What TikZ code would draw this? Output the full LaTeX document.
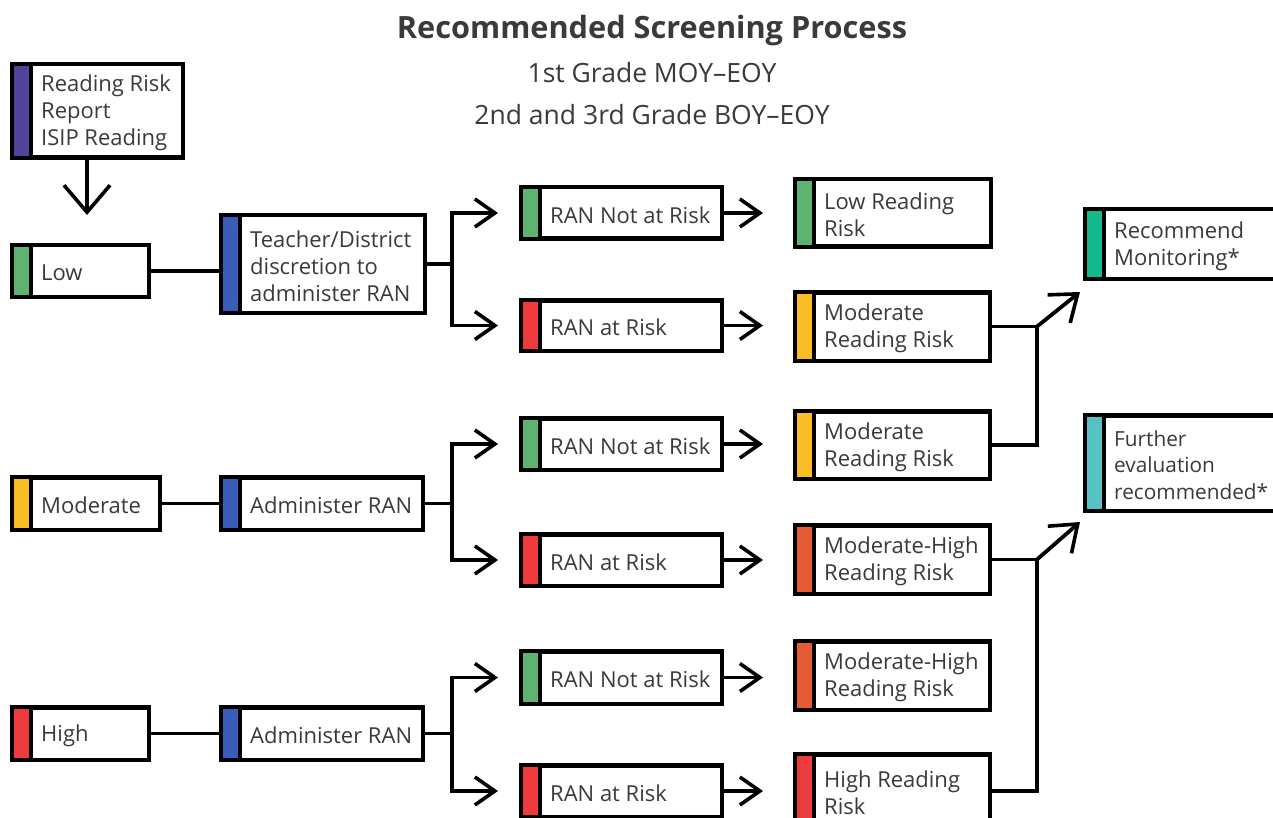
\documentclass[tikz,border=0pt]{standalone}
\usepackage{fontspec}
\setmainfont{Open Sans}
\usetikzlibrary{arrows.meta}
\definecolor{txtgray}{HTML}{3A3A3A}
\definecolor{cpurple}{HTML}{4F449A}
\definecolor{cgreen}{HTML}{5DB36F}
\definecolor{cblue}{HTML}{3B5DBA}
\definecolor{cyellow}{HTML}{FBBD26}
\definecolor{cred}{HTML}{EE3B3D}
\definecolor{corange}{HTML}{E65A34}
\definecolor{cteal}{HTML}{13B88C}
\definecolor{ccyan}{HTML}{56C2C3}
\tikzset{
  rbox/.style={draw=black, fill=white, line width=4.5pt, inner sep=0pt, rectangle},
  txt/.style={anchor=west, align=left, inner sep=0pt, text=txtgray, font=\fontsize{22}{27}\selectfont},
  conn/.style={line width=3.8pt, line join=miter},
  arr/.style={conn, -{Straight Barb[length=20pt,width=28pt,line width=3.6pt]}},
  bigarr/.style={conn, -{Straight Barb[length=27pt,width=46pt,line width=3.6pt]}},
  diagarr/.style={conn, -{Straight Barb[length=24pt,width=36pt,line width=3.6pt]}},
}
\newcommand\rbox[8][]{%
  \node[rbox, minimum width={#5-#3-4.5}, minimum height={#6-#4-4.5}, anchor=north west] (#2) at (#3,#4) {};
  \fill[#7] ([xshift=4.4,yshift=-4.4]#2.north west) rectangle ([xshift=19,yshift=4.4]#2.south west);
  \draw[line width=4pt] ([xshift=21]#2.north west) -- ([xshift=21]#2.south west);
  \node[txt,#1] (#2t) at ([xshift=31,yshift=-2]#2.west) {#8};
}
\begin{document}
\begin{tikzpicture}[x=1pt,y=-1pt]
\path[use as bounding box] (0,0) rectangle (1273,818);
\clip (0,0) rectangle (1273,818);
\fill[white] (0,0) rectangle (1273,818);

% titles
\node[anchor=base, inner sep=0pt, text=txtgray, font=\fontsize{30.7}{36}\selectfont\bfseries] (title) at (652,39) {Recommended Screening Process};
\node[anchor=base, inner sep=0pt, text=txtgray, font=\fontsize{26.5}{30}\selectfont] (sub1) at (652,83) {1st Grade MOY–EOY};
\node[anchor=base, inner sep=0pt, text=txtgray, font=\fontsize{26.5}{30}\selectfont] (sub2) at (652,125) {2nd and 3rd Grade BOY–EOY};

% boxes
\rbox{rr}{10}{62}{185}{160}{cpurple}{Reading Risk\\Report\\ISIP Reading}
\rbox{low}{10}{243}{151}{299}{cgreen}{Low}
\rbox{mod}{10}{475}{162}{532}{cyellow}{Moderate}
\rbox{high}{10}{705}{151}{762}{cred}{High}

\rbox{teach}{219}{213}{427}{315}{cblue}{Teacher/District\\discretion to\\administer RAN}
\rbox{adm2}{219}{475}{425}{532}{cblue}{Administer RAN}
\rbox{adm3}{219}{705}{425}{762}{cblue}{Administer RAN}

\rbox{rn1}{519}{185}{724}{241}{cgreen}{RAN Not at Risk}
\rbox{ra1}{519}{298}{724}{353}{cred}{RAN at Risk}
\rbox{rn2}{519}{416}{724}{472}{cgreen}{RAN Not at Risk}
\rbox{ra2}{519}{532}{724}{588}{cred}{RAN at Risk}
\rbox{rn3}{519}{649}{724}{706}{cgreen}{RAN Not at Risk}
\rbox{ra3}{519}{763}{724}{819}{cred}{RAN at Risk}

\rbox{lr}{793}{177}{993}{249}{cgreen}{Low Reading\\Risk}
\rbox{mr1}{793}{290}{992}{363}{cyellow}{Moderate\\Reading Risk}
\rbox{mr2}{793}{409}{992}{481}{cyellow}{Moderate\\Reading Risk}
\rbox{mh1}{793}{523}{992}{596}{corange}{Moderate-High\\Reading Risk}
\rbox{mh2}{793}{639}{992}{712}{corange}{Moderate-High\\Reading Risk}
\rbox{hr}{793}{752}{992}{830}{cred}{High Reading\\Risk}

\rbox{rm}{1083}{207}{1295}{281}{cteal}{Recommend\\Monitoring*}
\rbox[font=\fontsize{20.8}{26.5}\selectfont]{fe}{1083}{413}{1295}{513}{ccyan}{Further\\evaluation\\recommended*}

% helper coordinates
\coordinate (rrtip) at (87,215);
\coordinate (jl) at (452,0);
\coordinate (jr) at (1037,0);
\coordinate (t1) at (1080,292);
\coordinate (t2) at (1080,522);

% top arrow
\draw[bigarr] (rr.south -| rrtip) -- (rrtip);

% left connections
\draw[conn] (low.east) -- (low.east -| teach.west);
\draw[conn] (mod.east) -- (mod.east -| adm2.west);
\draw[conn] (high.east) -- (high.east -| adm3.west);

% branches
\draw[conn] (teach.east) -- (teach.east -| jl);
\draw[arr, shorten >=21pt] (teach.east -| jl) |- (rn1.west);
\draw[arr, shorten >=21pt] (teach.east -| jl) |- (ra1.west);
\draw[conn] (adm2.east) -- (adm2.east -| jl);
\draw[arr, shorten >=21pt] (adm2.east -| jl) |- (rn2.west);
\draw[arr, shorten >=21pt] (adm2.east -| jl) |- (ra2.west);
\draw[conn] (adm3.east) -- (adm3.east -| jl);
\draw[arr, shorten >=21pt] (adm3.east -| jl) |- (rn3.west);
\draw[arr, shorten >=21pt] (adm3.east -| jl) |- (ra3.west);

% to results
\draw[arr, shorten >=30pt] (rn1.east) -- (rn1.east -| lr.west);
\draw[arr, shorten >=30pt] (ra1.east) -- (ra1.east -| mr1.west);
\draw[arr, shorten >=30pt] (rn2.east) -- (rn2.east -| mr2.west);
\draw[arr, shorten >=30pt] (ra2.east) -- (ra2.east -| mh1.west);
\draw[arr, shorten >=30pt] (rn3.east) -- (rn3.east -| mh2.west);
\draw[arr, shorten >=30pt] (ra3.east) -- (ra3.east -| hr.west);

% merges
\draw[conn] (mr1.east) -- (mr1.east -| jr) |- (mr2.east);
\draw[diagarr] (mr1.east -| jr) -- (t1);
\draw[conn] (mh1.east) -- (mh1.east -| jr) |- (hr.east);
\draw[diagarr] (mh1.east -| jr) -- (t2);
\end{tikzpicture}
\end{document}
